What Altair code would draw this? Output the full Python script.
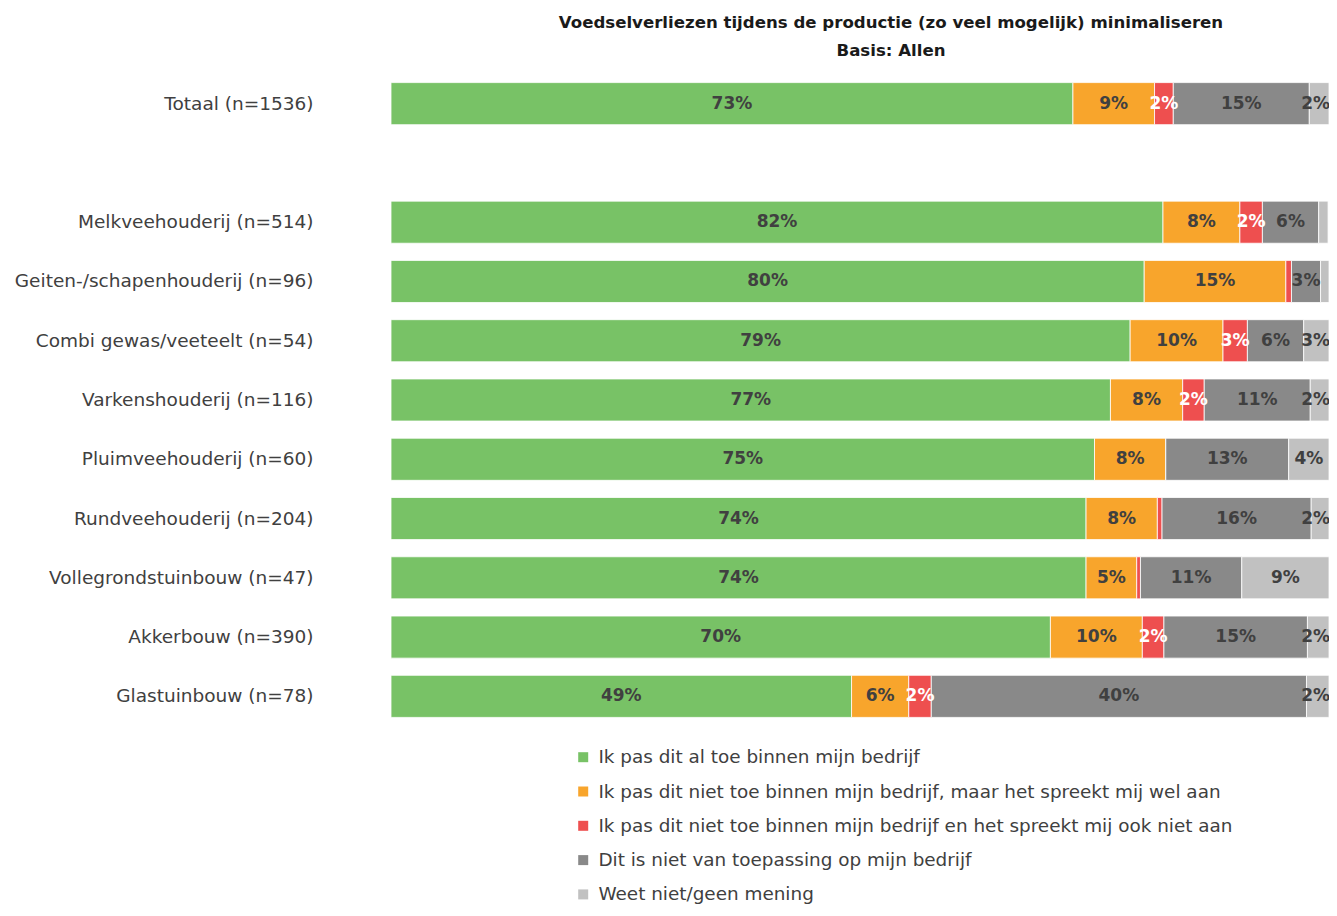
import altair as alt
import pandas as pd
import math

groups = ["Totaal (n=1536)", "Melkveehouderij (n=514)", "Geiten-/schapenhouderij (n=96)",
          "Combi gewas/veeteelt (n=54)", "Varkenshouderij (n=116)", "Pluimveehouderij (n=60)",
          "Rundveehouderij (n=204)", "Vollegrondstuinbouw (n=47)", "Akkerbouw (n=390)",
          "Glastuinbouw (n=78)"]

categories = ["Ik pas dit al toe binnen mijn bedrijf",
              "Ik pas dit niet toe binnen mijn bedrijf, maar het spreekt mij wel aan",
              "Ik pas dit niet toe binnen mijn bedrijf en het spreekt mij ook niet aan",
              "Dit is niet van toepassing op mijn bedrijf",
              "Weet niet/geen mening"]

toepassen = [72.7, 82.3, 80.3, 78.8, 76.7, 75.0, 74.1, 74.1, 70.3, 49.1]
spreekt_aan = [8.7, 8.2, 15.1, 9.9, 7.7, 7.6, 7.6, 5.4, 9.8, 6.1]
spreekt_niet_aan = [2.0, 2.4, 0.6, 2.6, 2.3, 0.0, 0.5, 0.4, 2.3, 2.4]
niet_van_toepassing = [14.5, 6.0, 3.1, 6.0, 11.3, 13.1, 15.9, 10.8, 15.3, 40.0]
weet_niet = [2.1, 1.0, 0.9, 2.7, 2.0, 4.3, 1.9, 9.3, 2.3, 2.4]

colors = ["#78C266", "#F8A52C", "#EE4F4F", "#898989", "#C1C1C1"]
label_colors = ["#404040", "#404040", "#FFFFFF", "#404040", "#404040"]

series = [toepassen, spreekt_aan, spreekt_niet_aan, niet_van_toepassing, weet_niet]

rows = []
for gi, g in enumerate(groups):
    start = 0.0
    for ci, c in enumerate(categories):
        v = series[ci][gi]
        last_narrow = (ci == len(categories) - 1) and v < 3.5
        rows.append({"groep": g, "cat": c, "order": ci, "value": v,
                     "start": start, "end": start + v, "mid": start + v / 2,
                     "label": f"{int(math.floor(v + 0.5))}%" if v >= 1.5 else "",
                     "edge": 1 if last_narrow else 0,
                     "lblcolor": label_colors[ci]})
        start += v
df = pd.DataFrame(rows)

y_domain = [groups[0], " "] + groups[1:]
FONT = "DejaVu Sans"

y_scale = alt.Scale(domain=y_domain, paddingInner=0.29, paddingOuter=0.145)
y_enc = alt.Y("groep:N", scale=y_scale,
              axis=alt.Axis(title=None, ticks=False, domain=False, labelPadding=78,
                            labelFontSize=18.5, labelColor="#404040", labelFont=FONT,
                            minExtent=383, maxExtent=383, labelLimit=400))
x_scale = alt.Scale(domain=[0, 100], nice=False, zero=True)

bars = alt.Chart(df).mark_bar(stroke="white", strokeWidth=0.8).encode(
    y=y_enc,
    x=alt.X("start:Q", scale=x_scale, axis=None),
    x2="end:Q",
    color=alt.Color("cat:N", scale=alt.Scale(domain=categories, range=colors),
                    legend=alt.Legend(title=None, orient="none", legendX=183, legendY=674,
                                      direction="vertical", symbolType="square", symbolSize=100,
                                      symbolStrokeWidth=0, labelFontSize=18.4, labelFont=FONT,
                                      labelColor="#404040", rowPadding=15.3, labelLimit=800,
                                      padding=0, labelOffset=6)),
    order=alt.Order("order:Q"),
)

base_labels = alt.Chart(df)
labels_mid = base_labels.transform_filter("datum.edge == 0").mark_text(
    fontSize=17, font=FONT, fontWeight="bold").encode(
    y=alt.Y("groep:N", scale=y_scale),
    x=alt.X("mid:Q", scale=x_scale),
    text="label:N",
    color=alt.Color("lblcolor:N", scale=None),
)
labels_edge = base_labels.transform_filter("datum.edge == 1").mark_text(
    fontSize=17, font=FONT, fontWeight="bold", align="right", dx=1).encode(
    y=alt.Y("groep:N", scale=y_scale),
    x=alt.X("end:Q", scale=x_scale),
    text="label:N",
    color=alt.Color("lblcolor:N", scale=None),
)

chart = alt.layer(bars, labels_mid, labels_edge).properties(
    width=938, height=652,
    autosize=alt.AutoSizeParams(type="none"),
    padding={"left": 383, "top": 66, "right": 0, "bottom": 182},
    title=alt.TitleParams(["Voedselverliezen tijdens de productie (zo veel mogelijk) minimaliseren",
                           "Basis: Allen"],
                          anchor="middle", dx=31, fontSize=16.6, font=FONT, fontWeight="bold",
                          color="#1a1a1a", lineHeight=28, offset=14),
).configure_view(stroke=None).configure_axis(grid=False)

chart.save("out.html", embed_options={"renderer": "svg", "actions": False})
